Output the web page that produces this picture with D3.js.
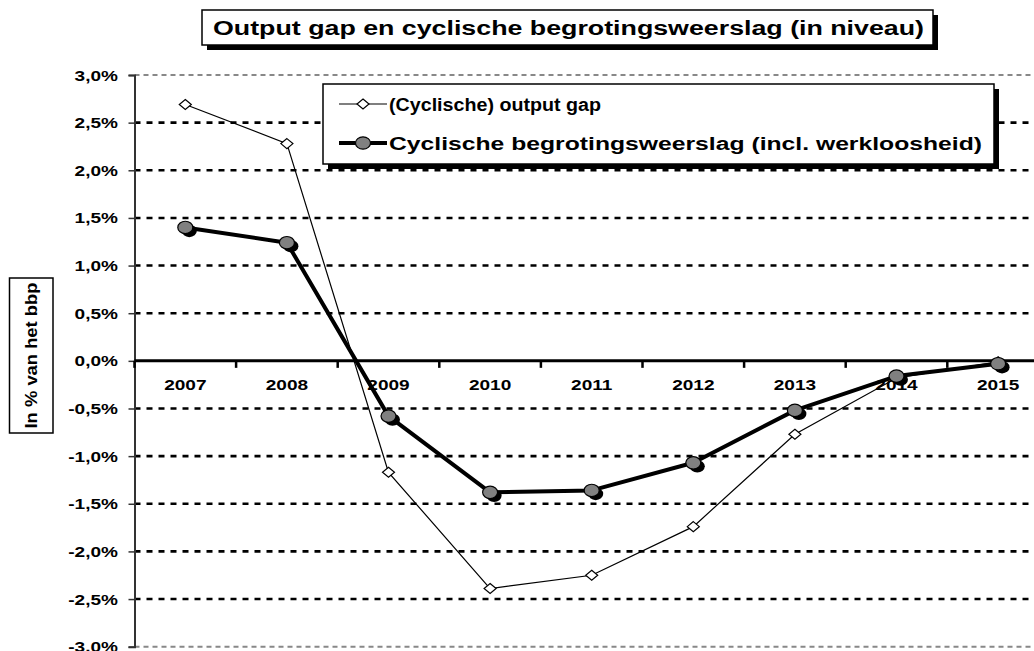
<!DOCTYPE html>
<html>
<head>
<meta charset="utf-8">
<script src="https://cdn.jsdelivr.net/npm/d3@7"></script>
<style>
  body { margin: 0; background: #fff; }
  svg { display: block; font-family: "Liberation Sans", Arial, sans-serif; font-weight: bold; }
</style>
</head>
<body>
<svg id="chart" width="1034" height="651"></svg>
<script>
// years on the x axis
const years = [2007, 2008, 2009, 2010, 2011, 2012, 2013, 2014, 2015];
// (cyclische) output gap, % of GDP
const outputGap = [2.69, 2.28, -1.17, -2.39, -2.25, -1.74, -0.77, -0.18, -0.01];
// cyclische begrotingsweerslag (incl. werkloosheid), % of GDP
const budget = [1.40, 1.24, -0.58, -1.38, -1.36, -1.07, -0.52, -0.16, -0.03];
const yTicks = [3, 2.5, 2, 1.5, 1, 0.5, 0, -0.5, -1, -1.5, -2, -2.5, -3];
const seriesNames = ['(Cyclische) output gap', 'Cyclische begrotingsweerslag (incl. werkloosheid)'];
const title = 'Output gap en cyclische begrotingsweerslag (in niveau)';
const yTitle = 'In % van het bbp';

const svg = d3.select('#chart');
const W = 1034;
const stretch = 1.27; // the original text is drawn a bit wide

const x = d3.scaleBand().domain(years).range([134.5, 134.5 + 9 * 101.6]);
const y = d3.scaleLinear().domain([-3, 3]).range([646.7, 75]);
const cx = d => x(d) + x.bandwidth() / 2;
const fmt = v => v.toFixed(1).replace('.', ',') + '%';

// helper for wide text
function wideText(parent, tx, ty, str, size, anchor) {
  return parent.append('text')
    .attr('transform', `translate(${tx},${ty}) scale(${stretch},1)`)
    .attr('text-anchor', anchor || 'middle')
    .attr('font-size', size + 'px')
    .text(str);
}

// grid lines
const grid = svg.append('g');
grid.selectAll('line')
  .data(yTicks.filter(v => v !== 0))
  .enter().append('line')
  .attr('x1', x.range()[0]).attr('x2', W)
  .attr('y1', d => y(d)).attr('y2', d => y(d))
  .attr('stroke', d => Math.abs(d) === 3 ? '#888' : '#000')
  .attr('stroke-width', d => Math.abs(d) === 3 ? 2 : 2.6)
  .attr('stroke-dasharray', d => Math.abs(d) === 3 ? '5 4' : '6 6');

// y axis
const yAxis = svg.append('g')
  .attr('transform', `translate(${x.range()[0]},0)`)
  .call(d3.axisLeft(y).tickValues(yTicks).tickSize(6).tickFormat(''));
yAxis.select('.domain').attr('stroke', '#333').attr('stroke-width', 2);
yAxis.selectAll('line').attr('stroke', '#333').attr('stroke-width', 1.5);

yTicks.forEach(v => wideText(svg, 118, y(v) + 5.5, fmt(v), 15, 'end'));

// zero line with category ticks
svg.append('line')
  .attr('x1', x.range()[0]).attr('x2', W)
  .attr('y1', y(0)).attr('y2', y(0))
  .attr('stroke', '#000').attr('stroke-width', 3);
svg.selectAll('.xtick')
  .data(years)
  .enter().append('line')
  .attr('class', 'xtick')
  .attr('x1', d => x(d)).attr('x2', d => x(d))
  .attr('y1', y(0)).attr('y2', y(0) + 7)
  .attr('stroke', '#000').attr('stroke-width', 2.5);

years.forEach(yr => wideText(svg, cx(yr), 390, String(yr), 15));

// output gap series
const gapData = years.map((yr, i) => ({ year: yr, v: outputGap[i] }));
const budData = years.map((yr, i) => ({ year: yr, v: budget[i] }));
const line = d3.line().x(d => cx(d.year)).y(d => y(d.v));

const diamond = (px, py) => `M${px},${py - 5} L${px + 6},${py} L${px},${py + 5} L${px - 6},${py} Z`;

svg.append('path').datum(gapData)
  .attr('d', line).attr('fill', 'none').attr('stroke', '#000').attr('stroke-width', 1.2);
svg.selectAll('.gap-pt')
  .data(gapData)
  .enter().append('path')
  .attr('class', 'gap-pt')
  .attr('d', d => diamond(cx(d.year), y(d.v)))
  .attr('fill', '#fff').attr('stroke', '#000').attr('stroke-width', 1.2);

// budget series
svg.append('path').datum(budData)
  .attr('d', line).attr('fill', 'none').attr('stroke', '#000').attr('stroke-width', 4)
  .attr('stroke-linejoin', 'round');
svg.selectAll('.bud-shadow')
  .data(budData)
  .enter().append('ellipse')
  .attr('class', 'bud-shadow')
  .attr('cx', d => cx(d.year) + 4).attr('cy', d => y(d.v) + 3.5)
  .attr('rx', 7.5).attr('ry', 6.2)
  .attr('fill', '#000');
svg.selectAll('.bud-pt')
  .data(budData)
  .enter().append('ellipse')
  .attr('class', 'bud-pt')
  .attr('cx', d => cx(d.year)).attr('cy', d => y(d.v))
  .attr('rx', 7.5).attr('ry', 6.2)
  .attr('fill', '#808080').attr('stroke', '#000').attr('stroke-width', 1.2);

// legend
const lg = svg.append('g');
lg.append('rect').attr('x', 328).attr('y', 89).attr('width', 671).attr('height', 80).attr('fill', '#000');
lg.append('rect').attr('x', 323).attr('y', 84).attr('width', 671).attr('height', 80)
  .attr('fill', '#fff').attr('stroke', '#000').attr('stroke-width', 1.5);
const rows = [104, 143];
const rowWidths = [212, 593];
lg.append('line').attr('x1', 339).attr('x2', 387).attr('y1', rows[0]).attr('y2', rows[0])
  .attr('stroke', '#000').attr('stroke-width', 1.2);
lg.append('path').attr('d', diamond(363, rows[0])).attr('fill', '#fff').attr('stroke', '#000').attr('stroke-width', 1.2);
lg.append('line').attr('x1', 339).attr('x2', 387).attr('y1', rows[1]).attr('y2', rows[1])
  .attr('stroke', '#000').attr('stroke-width', 4);
lg.append('ellipse').attr('cx', 363).attr('cy', rows[1]).attr('rx', 7.5).attr('ry', 6.2)
  .attr('fill', '#808080').attr('stroke', '#000').attr('stroke-width', 1.2);
seriesNames.forEach((n, i) => {
  lg.append('text')
    .attr('x', 389).attr('y', rows[i] + 6.5)
    .attr('font-size', '18px')
    .attr('textLength', rowWidths[i])
    .attr('lengthAdjust', 'spacingAndGlyphs')
    .text(n);
});

// title
svg.append('rect').attr('x', 207).attr('y', 15).attr('width', 731).attr('height', 35).attr('fill', '#000');
svg.append('rect').attr('x', 202).attr('y', 10).attr('width', 731).attr('height', 35)
  .attr('fill', '#fff').attr('stroke', '#000').attr('stroke-width', 1.5);
svg.append('text')
  .attr('x', 213).attr('y', 35)
  .attr('font-size', '20px')
  .attr('textLength', 711)
  .attr('lengthAdjust', 'spacingAndGlyphs')
  .text(title);

// y axis title
svg.append('rect').attr('x', 9.5).attr('y', 278).attr('width', 43.5).attr('height', 155)
  .attr('fill', '#fff').attr('stroke', '#000').attr('stroke-width', 1.5);
svg.append('text')
  .attr('transform', 'translate(37,355.5) rotate(-90)')
  .attr('text-anchor', 'middle')
  .attr('font-size', '16px')
  .attr('textLength', 146)
  .attr('lengthAdjust', 'spacingAndGlyphs')
  .text(yTitle);
</script>
</body>
</html>
